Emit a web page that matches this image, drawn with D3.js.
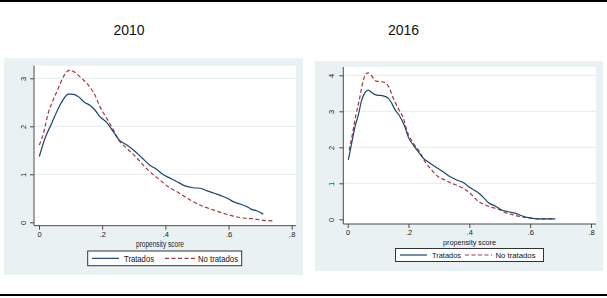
<!DOCTYPE html>
<html><head><meta charset="utf-8">
<script src="https://cdn.jsdelivr.net/npm/d3@7/dist/d3.min.js"></script>
<style>body{margin:0;background:#fff}svg{display:block;font-family:"Liberation Sans",Arial,sans-serif}</style>
</head><body><svg id="c" width="607" height="298"></svg>
<script>
// ---- data ----
const years = ["2010", "2016"];
const xTicks = [0, 0.2, 0.4, 0.6, 0.8];
const xTickLabels = ["0", ".2", ".4", ".6", ".8"];
const yTicks2010 = [0, 1, 2, 3];
const yTicks2016 = [0, 1, 2, 3, 4];
const seriesNames = ["Tratados", "No tratados"];
const xAxisTitle = "propensity score";

const trat2010 = [[0.001,1.37],[0.019,1.75],[0.040,2.06],[0.061,2.37],[0.077,2.56],[0.093,2.67],[0.103,2.67],[0.124,2.62],[0.146,2.49],[0.161,2.44],[0.177,2.34],[0.193,2.20],[0.214,2.08],[0.235,1.89],[0.256,1.70],[0.278,1.61],[0.298,1.51],[0.325,1.35],[0.351,1.19],[0.373,1.10],[0.394,0.99],[0.415,0.92],[0.436,0.85],[0.462,0.76],[0.488,0.72],[0.510,0.71],[0.531,0.66],[0.557,0.60],[0.578,0.55],[0.599,0.49],[0.615,0.43],[0.636,0.38],[0.657,0.33],[0.673,0.27],[0.689,0.24],[0.710,0.17]];
const notrat2010 = [[0.001,1.61],[0.014,1.85],[0.029,2.27],[0.045,2.55],[0.061,2.79],[0.077,3.03],[0.093,3.16],[0.098,3.17],[0.114,3.12],[0.135,3.00],[0.156,2.86],[0.177,2.65],[0.193,2.41],[0.214,2.17],[0.235,1.93],[0.251,1.73],[0.278,1.54],[0.304,1.38],[0.330,1.19],[0.357,1.02],[0.383,0.88],[0.409,0.74],[0.436,0.64],[0.462,0.53],[0.488,0.43],[0.520,0.33],[0.551,0.26],[0.583,0.19],[0.615,0.13],[0.646,0.09],[0.678,0.075],[0.710,0.04],[0.741,0.03]];
const trat2016 = [[0.002,1.65],[0.013,2.11],[0.024,2.57],[0.035,2.90],[0.046,3.31],[0.057,3.52],[0.068,3.59],[0.079,3.52],[0.095,3.45],[0.117,3.43],[0.134,3.36],[0.145,3.22],[0.156,3.04],[0.172,2.85],[0.188,2.57],[0.199,2.29],[0.216,2.06],[0.232,1.88],[0.249,1.69],[0.271,1.56],[0.293,1.43],[0.314,1.32],[0.337,1.18],[0.359,1.09],[0.380,1.02],[0.402,0.88],[0.424,0.77],[0.446,0.61],[0.463,0.46],[0.485,0.37],[0.507,0.26],[0.528,0.21],[0.550,0.17],[0.572,0.10],[0.594,0.045],[0.616,0.02],[0.655,0.01],[0.682,0.01]];
const notrat2016 = [[0.005,1.92],[0.016,2.39],[0.027,2.90],[0.038,3.31],[0.049,3.78],[0.060,4.04],[0.068,4.07],[0.079,3.98],[0.093,3.84],[0.112,3.82],[0.126,3.78],[0.137,3.64],[0.150,3.36],[0.166,3.08],[0.183,2.81],[0.196,2.43],[0.216,2.11],[0.236,1.88],[0.254,1.60],[0.276,1.37],[0.298,1.18],[0.320,1.09],[0.342,1.00],[0.364,0.93],[0.386,0.83],[0.408,0.68],[0.430,0.49],[0.452,0.40],[0.474,0.33],[0.495,0.28],[0.517,0.19],[0.545,0.12],[0.572,0.07],[0.600,0.03],[0.633,0.01],[0.682,0.01]];

// ---- layout ----
const svg = d3.select("#c");
const BG = "#eaf1f3", GRID = "#e3ecef", AX = "#4a4a4a";
const BLUE = "#1a476f", RED = "#a3353b";

svg.append("line").attr("x1",0).attr("x2",607).attr("y1",1).attr("y2",1).attr("stroke","#000").attr("stroke-width",2);
svg.append("line").attr("x1",0).attr("x2",607).attr("y1",295).attr("y2",295).attr("stroke","#000").attr("stroke-width",2);

const panels = [
  {year: years[0], title:[129,35], bg:[4,58,303,275], plot:[34,65.7,296,225.7], xr:[39,291.7], yr:[222.3,78.3], ymax:3, yt:yTicks2010,
   ylabX:23.5, xlabY:234.5, axTitle:[160,247], axW:48, leg:[87.7,251,241.7,265.7], tr:trat2010, nt:notrat2010,
   legItems:[[92,119,124,30],[165,195,198,40]], fs:{tick:7.5, axt:8.5, leg:9}},
  {year: years[1], title:[403.5,35], bg:[315,61,603,271], plot:[343.3,67,596,224], xr:[347.7,591], yr:[219.3,75.3], ymax:4, yt:yTicks2016,
   ylabX:331.5, xlabY:232.5, axTitle:[469.5,244.5], axW:53, leg:[395.5,248.5,543.5,261.5], tr:trat2016, nt:notrat2016,
   legItems:[[400,427,432,29],[465,492,495.5,40]], fs:{tick:7.5, axt:8, leg:8}}
];

panels.forEach(p => {
  svg.append("text").attr("x",p.title[0]).attr("y",p.title[1]).attr("text-anchor","middle")
    .attr("font-size",14).attr("fill","#111").text(p.year);
  svg.append("rect").attr("x",p.bg[0]).attr("y",p.bg[1]).attr("width",p.bg[2]-p.bg[0]).attr("height",p.bg[3]-p.bg[1]).attr("fill",BG);
  svg.append("rect").attr("x",p.plot[0]).attr("y",p.plot[1]).attr("width",p.plot[2]-p.plot[0]).attr("height",p.plot[3]-p.plot[1]).attr("fill","#fff");

  const x = d3.scaleLinear().domain([0,0.8]).range(p.xr);
  const y = d3.scaleLinear().domain([0,p.ymax]).range(p.yr);

  // gridlines
  svg.append("g").selectAll("line").data(p.yt.filter(v=>v>0)).join("line")
    .attr("x1",p.plot[0]+1).attr("x2",p.plot[2]).attr("y1",d=>y(d)).attr("y2",d=>y(d))
    .attr("stroke",GRID).attr("stroke-width",1);

  // y axis
  const ya = svg.append("g").attr("transform",`translate(${p.plot[0]},0)`)
    .call(d3.axisLeft(y).tickValues(p.yt).tickSize(4).tickFormat(d3.format("d")));
  ya.select(".domain").attr("d",`M0,${p.plot[1]}V${p.plot[3]}`).attr("stroke",AX);
  ya.selectAll(".tick line").attr("stroke",AX);
  ya.selectAll(".tick text").attr("x",null).attr("dy",null).attr("text-anchor","middle")
    .attr("transform",`translate(${p.ylabX-p.plot[0]},0) rotate(-90)`).attr("dy","0.35em")
    .attr("font-size",p.fs.tick).attr("fill","#222").attr("font-family","Liberation Sans, Arial, sans-serif");

  // x axis
  const xa = svg.append("g").attr("transform",`translate(0,${p.plot[3]})`)
    .call(d3.axisBottom(x).tickValues(xTicks).tickSize(4).tickFormat((d,i)=>xTickLabels[i]));
  xa.select(".domain").attr("d",`M${p.plot[0]},0H${p.plot[2]}`).attr("stroke",AX);
  xa.selectAll(".tick line").attr("stroke",AX);
  xa.selectAll(".tick text").attr("y",p.xlabY-p.plot[3]).attr("dy","0.35em")
    .attr("font-size",p.fs.tick).attr("fill","#222").attr("font-family","Liberation Sans, Arial, sans-serif");

  svg.append("text").attr("x",p.axTitle[0]).attr("y",p.axTitle[1]).attr("text-anchor","middle")
    .attr("font-size",p.fs.axt).attr("fill","#222").attr("textLength",p.axW).attr("lengthAdjust","spacingAndGlyphs").text(xAxisTitle);

  const line = d3.line().x(d=>x(d[0])).y(d=>y(d[1])).curve(d3.curveMonotoneX);
  svg.append("path").datum(p.nt).attr("d",line).attr("fill","none").attr("stroke",RED).attr("stroke-width",1.2).attr("stroke-dasharray","4,2.5");
  svg.append("path").datum(p.tr).attr("d",line).attr("fill","none").attr("stroke",BLUE).attr("stroke-width",1.2);

  // legend
  const L = p.leg, cy = (L[1]+L[3])/2;
  svg.append("rect").attr("x",L[0]).attr("y",L[1]).attr("width",L[2]-L[0]).attr("height",L[3]-L[1])
    .attr("fill","#fff").attr("stroke","#333").attr("stroke-width",1);
  const styles = [{c:BLUE,d:null},{c:RED,d:"4,2.5"}];
  p.legItems.forEach((it,i)=>{
    svg.append("line").attr("x1",it[0]).attr("x2",it[1]).attr("y1",cy).attr("y2",cy)
      .attr("stroke",styles[i].c).attr("stroke-width",1.2).attr("stroke-dasharray",styles[i].d);
    svg.append("text").attr("x",it[2]).attr("y",cy).attr("dy","0.35em").attr("font-size",p.fs.leg)
      .attr("textLength",it[3]).attr("lengthAdjust","spacingAndGlyphs")
      .attr("fill","#111").text(seriesNames[i]);
  });
});
</script></body></html>
